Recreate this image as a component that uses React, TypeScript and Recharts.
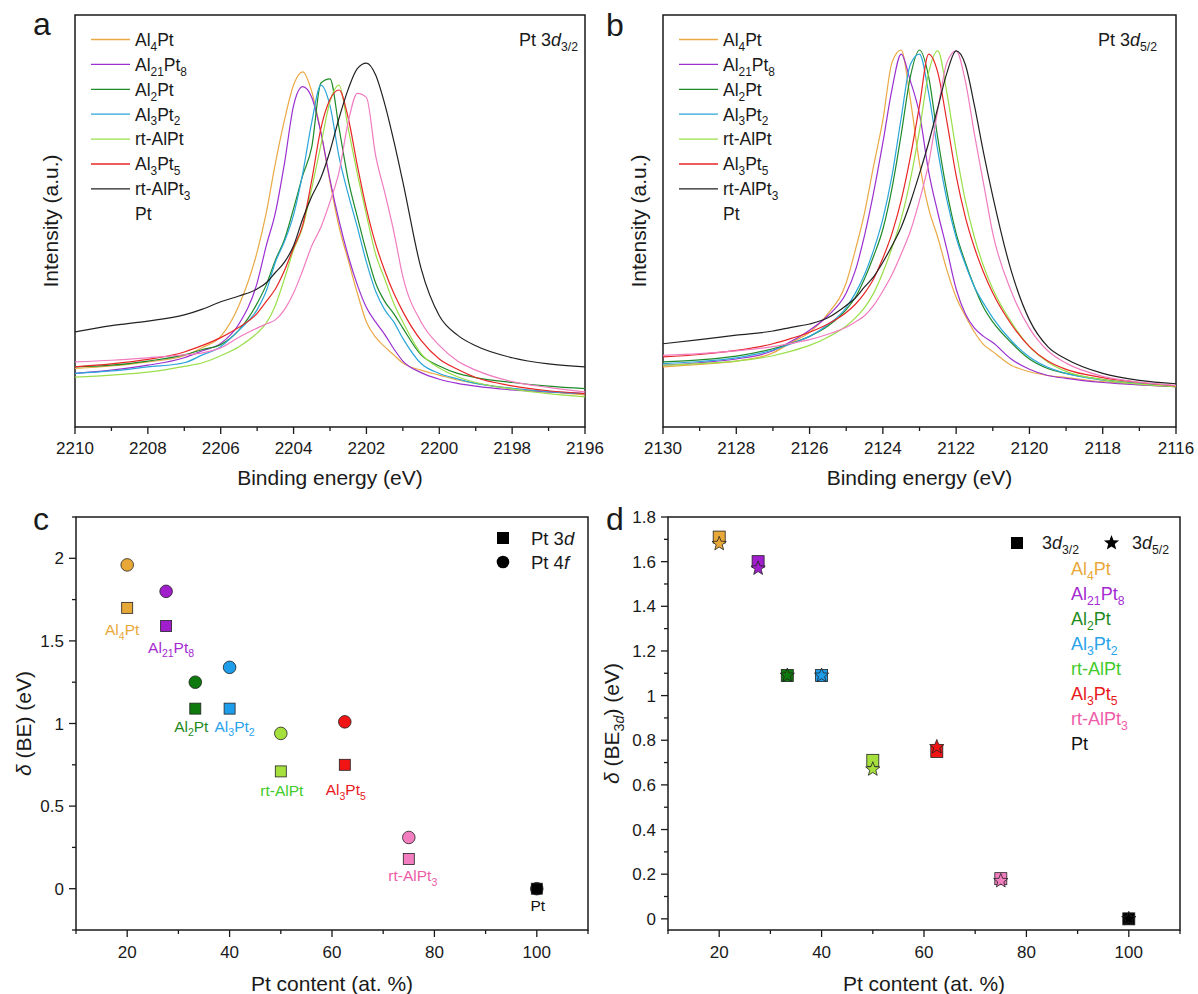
import React from "react";
import { LineChart, Line, XAxis, YAxis, ReferenceArea, ScatterChart, Scatter } from "recharts";

const FONT = '"Liberation Sans", Arial, Helvetica, sans-serif';
const INK = "#1a1a1a";

// compounds, in legend order
const NAMES = ["Al_4Pt", "Al_{21}Pt_8", "Al_2Pt", "Al_3Pt_2", "rt-AlPt", "Al_3Pt_5", "rt-AlPt_3", "Pt"];
const KEYS = ["al4pt", "al21pt8", "al2pt", "al3pt2", "rtAlPt", "al3pt5", "rtAlPt3", "pt"];
const LINE_COLORS = ["#e9a945", "#9b30d0", "#1e8a2a", "#2ba6da", "#9adf4a", "#e82626", "#f07cc0", "#222222"];
// legend swatches as printed (rt-AlPt3 row shows black, Pt row has none)
const LEGEND_SWATCH = ["#e9a945", "#9b30d0", "#1e8a2a", "#2ba6da", "#9adf4a", "#e82626", "#222222", ""];
const MARKER_COLORS = ["#e8a838", "#a01ecc", "#0e7a0e", "#1e9deb", "#a6e03c", "#f01414", "#f27ec0", "#000000"];
const TEXT_COLORS = ["#e9a93a", "#a52bd0", "#1f8b1f", "#29a3ea", "#3fcb2a", "#e8191d", "#ee5ca8", "#111111"];

// ---- panel a: Pt 3d3/2 spectra (intensity, a.u.)
const energyA = [2210, 2209, 2208, 2207, 2206.5, 2206, 2205.5, 2205, 2204.75, 2204.5, 2204.25, 2204, 2203.75, 2203.5, 2203.25, 2203, 2202.75, 2202.5, 2202.25, 2202, 2201.75, 2201.5, 2201.25, 2201, 2200.5, 2200, 2199.5, 2199, 2198, 2197, 2196];
const al4ptA = [14.2, 14.8, 15.8, 17.3, 19.3, 22, 29.5, 42.5, 52, 64, 74.5, 83, 86.2, 81.4, 71.5, 59.5, 48.5, 40.5, 32.5, 25.5, 21.8, 19.5, 17.5, 15.5, 13.8, 12.6, 11.4, 10.6, 9.4, 8.5, 7.8];
const al21pt8A = [13, 13.8, 15, 16.8, 18.5, 20.3, 25, 35, 44, 52, 64, 78, 82.6, 80, 71.5, 60, 50, 41.5, 34.5, 29, 25.5, 22.5, 19, 16, 13.2, 11.6, 10.6, 9.9, 9.0, 8.5, 8.1];
const al2ptA = [14.6, 15, 16, 17.5, 18.8, 20, 23.5, 30, 34.5, 40.5, 45.5, 53, 61, 68, 83.5, 84.5, 72.5, 60, 51, 42.5, 35, 30.5, 27.5, 24, 17.5, 14.8, 13, 12, 10.8, 9.9, 9.3];
const al3pt2A = [13, 13.6, 14.6, 15.6, 17.5, 19.5, 23.5, 28.5, 33, 40, 45, 51.5, 61.5, 74, 83, 78, 65.5, 56.5, 48.5, 40, 33, 28.5, 25.5, 21.5, 15.4, 13, 11.7, 10.6, 9.4, 8.6, 8.1];
const rtAlPtA = [12.1, 12.6, 13.3, 14.7, 15.6, 17.3, 19.5, 22.8, 25.2, 29.5, 36, 43, 48.5, 58, 68.5, 79, 83, 72.5, 61.5, 51.5, 42, 36, 30, 25.5, 17.8, 14.3, 12.2, 10.8, 9.2, 8.1, 7.3];
const al3pt5A = [14.6, 15.3, 16.4, 18.2, 19.8, 21.7, 24.2, 27.6, 30.5, 33.5, 38, 43.5, 49, 60, 72.5, 79.5, 81.8, 75, 63.5, 53, 44.5, 38, 32.5, 28, 21, 16.5, 14, 12, 10, 8.8, 8.1];
const rtAlPt3A = [15.8, 16.2, 16.8, 17.5, 18, 19.2, 21.8, 24, 25, 26, 28.5, 32.5, 38, 44, 48.5, 54.7, 62, 74, 81, 80, 66, 57, 47.5, 36.5, 25.5, 19.8, 16, 13.8, 11, 9.6, 8.5];
const ptA = [23.1, 24.6, 25.7, 27.2, 28.6, 30.4, 31.8, 33.5, 35, 37.5, 40, 44, 50.5, 56, 60.5, 67, 75, 82, 87, 88.3, 85.5, 78.5, 69.5, 59.5, 38.5, 27, 22.3, 19.7, 16.8, 15.3, 14.6];

// ---- panel b: Pt 3d5/2 spectra (intensity, a.u.)
const energyB = [2130, 2129, 2128, 2127, 2126.5, 2126, 2125.5, 2125, 2124.75, 2124.5, 2124.25, 2124, 2123.75, 2123.5, 2123.25, 2123, 2122.75, 2122.5, 2122.25, 2122, 2121.75, 2121.5, 2121.25, 2121, 2120.5, 2120, 2119.5, 2119, 2118, 2117, 2116];
const al4ptB = [14.6, 15.2, 16, 18, 20.5, 23, 27.5, 35, 43, 52, 63.5, 74.5, 88.5, 91.5, 79.5, 64, 53, 46, 38, 31.5, 27, 23, 20, 18.3, 15, 13.4, 12.5, 12, 11, 10.3, 9.8];
const al21pt8B = [15, 15.6, 16.5, 18.5, 20.8, 23.5, 27, 32.5, 38, 46.5, 57, 69, 82, 90.5, 84, 76, 62, 52, 43, 33.5, 27.5, 24, 22, 20.5, 16.5, 14, 12.5, 11.8, 10.8, 10.2, 9.8];
const al2ptB = [15.8, 16.3, 17.2, 19, 20.3, 22, 24.5, 28.5, 31.5, 36, 41.5, 48, 58, 71, 85, 91.5, 85, 70, 57, 47, 40, 34, 29, 25.5, 20.5, 16.5, 14.2, 13, 11.5, 10.5, 9.8];
const al3pt2B = [15.4, 15.9, 16.8, 18.7, 20.2, 22, 24.8, 29, 32.5, 37, 43, 50.5, 61, 75, 88, 90.5, 81, 67, 55, 46, 39.5, 34, 30, 26.5, 21, 17, 14.5, 13, 11.4, 10.5, 9.9];
const rtAlPtB = [15, 15.4, 16, 17.3, 18.4, 19.8, 21.8, 24.5, 26.5, 29, 32.5, 37.5, 43.5, 50.5, 60, 72, 86, 91.3, 81, 67, 55, 46, 39, 33.5, 25.5, 19.5, 15.8, 13.5, 11.5, 10.4, 9.8];
const al3pt5B = [17, 17.6, 18.6, 20.2, 21.5, 23, 25, 27.8, 29.8, 32.5, 36, 41, 47, 55, 65.5, 78, 90.5, 86, 74, 61, 51, 43.5, 37.5, 32.5, 25, 19.5, 16, 14, 12, 10.8, 10];
const rtAlPt3B = [17.4, 17.8, 18.5, 19.5, 20.3, 21.2, 22.5, 24.2, 25.5, 27, 29.5, 33, 37, 42, 47.5, 55, 64, 77, 88.5, 91.3, 84, 71, 59, 47, 33, 24, 18.5, 15.5, 12.3, 10.9, 10.1];
const ptB = [20.2, 21.2, 22.3, 23.3, 24.2, 25, 26.5, 29.5, 31.3, 34, 36.5, 40, 44, 48.5, 54.5, 61.5, 69, 77.5, 86, 91.3, 88, 78, 66.5, 56, 38, 26, 19.5, 16.5, 13, 11.3, 10.5];

// ---- panels c, d: chemical shifts vs Pt content
const ptContent = [20, 27.6, 33.3, 40, 50, 62.5, 75, 100];
const shift3d = [1.70, 1.59, 1.09, 1.09, 0.71, 0.75, 0.18, 0];
const shift4f = [1.96, 1.80, 1.25, 1.34, 0.94, 1.01, 0.31, 0];
const shift3d32 = [1.71, 1.60, 1.09, 1.09, 0.71, 0.75, 0.18, 0];
const shift3d52 = [1.68, 1.57, 1.09, 1.09, 0.67, 0.77, 0.17, 0];

// tick values
const ticksA = [2210, 2209, 2208, 2207, 2206, 2205, 2204, 2203, 2202, 2201, 2200, 2199, 2198, 2197, 2196];
const ticksB = [2130, 2129, 2128, 2127, 2126, 2125, 2124, 2123, 2122, 2121, 2120, 2119, 2118, 2117, 2116];
const ticksPt = [10, 20, 30, 40, 50, 60, 70, 80, 90, 100, 110];
const ticksC = [-0.25, 0, 0.25, 0.5, 0.75, 1, 1.25, 1.5, 1.75, 2, 2.25];
const ticksD = [0, 0.1, 0.2, 0.3, 0.4, 0.5, 0.6, 0.7, 0.8, 0.9, 1, 1.1, 1.2, 1.3, 1.4, 1.5, 1.6, 1.7, 1.8];

// label nudges (px) for the compound names under the squares in c
const LABEL_NUDGE_C = [[-5, 22], [5, 21], [-4, 18], [5, 18], [1, 19], [1, 25], [4, 17], [1, 17]];

const seriesA = [al4ptA, al21pt8A, al2ptA, al3pt2A, rtAlPtA, al3pt5A, rtAlPt3A, ptA];
const seriesB = [al4ptB, al21pt8B, al2ptB, al3pt2B, rtAlPtB, al3pt5B, rtAlPt3B, ptB];

function toRows(energy: number[], series: number[][]) {
  return energy.map((e, i) => {
    const r: Record<string, number> = { e };
    KEYS.forEach((k, j) => (r[k] = series[j][i]));
    return r;
  });
}
const rowsA = toRows(energyA, seriesA);
const rowsB = toRows(energyB, seriesB);

const pts = (ys: number[]) => ptContent.map((x, i) => ({ x, y: ys[i], i }));

// tiny markup: _x or _{..} subscript, *..* italic
type Seg = { t: string; sub: boolean; it: boolean };
function parseRich(s: string): Seg[] {
  const out: Seg[] = [];
  let sub = false, it = false, braced = false, single = false, buf = "";
  const flush = () => { if (buf) { out.push({ t: buf, sub, it }); buf = ""; } };
  for (let i = 0; i < s.length; i++) {
    const c = s[i];
    if (c === "*") { flush(); it = !it; continue; }
    if (c === "_") {
      flush(); sub = true;
      if (s[i + 1] === "{") { braced = true; i++; } else single = true;
      continue;
    }
    if (c === "}" && braced) { flush(); sub = false; braced = false; continue; }
    buf += c;
    if (single) { flush(); sub = false; single = false; }
  }
  flush();
  return out;
}
function rich(s: string, size: number) {
  let down = false;
  return parseRich(s).map((p, i) => {
    let dy: number | undefined;
    if (p.sub && !down) { dy = size * 0.28; down = true; }
    else if (!p.sub && down) { dy = -size * 0.28; down = false; }
    return (
      <tspan key={i} dy={dy} fontSize={p.sub ? size * 0.68 : size} fontStyle={p.it ? "italic" : "normal"}>{p.t}</tspan>
    );
  });
}

const isMajor = (v: number, step: number) => Math.abs(v / step - Math.round(v / step)) < 1e-6;

const bottomTick = (step: number, gap: number) => (props: any) => {
  const { x, y, payload } = props;
  const major = isMajor(payload.value, step);
  return (
    <g>
      <line x1={x} x2={x} y1={y} y2={y + (major ? 7 : 4)} stroke={INK} strokeWidth={1.3} />
      {major && (
        <text x={x} y={y + gap} textAnchor="middle" fontSize={17} fill={INK}>{String(payload.value)}</text>
      )}
    </g>
  );
};

const leftTick = (step: number) => (props: any) => {
  const { x, y, payload } = props;
  const major = isMajor(payload.value, step);
  return (
    <g>
      <line x1={x} x2={x - (major ? 7 : 4)} y1={y} y2={y} stroke={INK} strokeWidth={1.3} />
      {major && (
        <text x={x - 12} y={y + 6} textAnchor="end" fontSize={17} fill={INK}>{String(payload.value)}</text>
      )}
    </g>
  );
};

const xTitle = (text: string, dy: number) => (props: any) => {
  const vb = props.viewBox || { x: 0, y: 0, width: 0, height: 0 };
  return (
    <text x={vb.x + vb.width / 2} y={vb.y + dy} textAnchor="middle" fontSize={21} fill={INK}>{rich(text, 21)}</text>
  );
};

const yTitle = (text: string, off: number) => (props: any) => {
  const vb = props.viewBox || { x: 0, y: 0, width: 0, height: 0 };
  const cx = vb.x + off;
  const cy = vb.y + vb.height / 2;
  return (
    <text x={cx} y={cy + 7.5} transform={`rotate(-90 ${cx} ${cy})`} textAnchor="middle" fontSize={21} fill={INK}>
      {rich(text, 21)}
    </text>
  );
};

function starPoints(cx: number, cy: number, R: number, r: number) {
  const p: string[] = [];
  for (let k = 0; k < 10; k++) {
    const a = -Math.PI / 2 + (k * Math.PI) / 5;
    const rad = k % 2 === 0 ? R : r;
    p.push(`${cx + rad * Math.cos(a)},${cy + rad * Math.sin(a)}`);
  }
  return p.join(" ");
}

const squareLabelled = (props: any) => {
  const { cx, cy, payload } = props;
  const i = payload.i;
  const [dx, dy] = LABEL_NUDGE_C[i];
  return (
    <g>
      <rect x={cx - 5.5} y={cy - 5.5} width={11} height={11} fill={MARKER_COLORS[i]} stroke="#222" strokeWidth={0.8} />
      <text x={cx + dx} y={cy + dy + 5.5} textAnchor="middle" fontSize={15.5} fill={TEXT_COLORS[i]}>
        {rich(NAMES[i], 15.5)}
      </text>
    </g>
  );
};
const circleShape = (props: any) => {
  const { cx, cy, payload } = props;
  return <circle cx={cx} cy={cy} r={6.3} fill={MARKER_COLORS[payload.i]} stroke="#222" strokeWidth={0.8} />;
};
const squareShape = (props: any) => {
  const { cx, cy, payload } = props;
  return <rect x={cx - 6} y={cy - 6} width={12} height={12} fill={MARKER_COLORS[payload.i]} stroke="#222" strokeWidth={0.8} />;
};
const starShape = (props: any) => {
  const { cx, cy, payload } = props;
  return <polygon points={starPoints(cx, cy, 7.5, 3.2)} fill={MARKER_COLORS[payload.i]} stroke="#222" strokeWidth={0.8} />;
};

function Spectrum({ rows, domain, ticks, yOff, ...m }: any) {
  return (
    <LineChart width={m.width} height={500} data={rows} margin={{ top: 15, right: m.right, left: 0, bottom: 0 }}>
      <XAxis dataKey="e" type="number" domain={domain} reversed ticks={ticks} interval={0} tickLine={false}
        tickSize={0} tickMargin={0} axisLine={false} height={73} tick={bottomTick(2, 27)}
        label={xTitle("Binding energy (eV)", 57.5)} />
      <YAxis type="number" domain={[0, 100]} width={m.yw} tick={false} tickLine={false} axisLine={false}
        label={yTitle("Intensity (a.u.)", yOff)} />
      <ReferenceArea x1={domain[1]} x2={domain[0]} y1={0} y2={100} fill="none" stroke={INK} strokeWidth={1.5} />
      {KEYS.map((k, j) => (
        <Line key={k} dataKey={k} type="monotone" stroke={LINE_COLORS[j]} strokeWidth={1.2} dot={false}
          activeDot={false} isAnimationActive={false} />
      ))}
    </LineChart>
  );
}

function ShiftChart({ width, yw, right, yDomain, yTicks, yStep, ytitle, yOff, children }: any) {
  return (
    <ScatterChart width={width} height={500} margin={{ top: 23, right, left: 0, bottom: 0 }}>
      <XAxis dataKey="x" type="number" domain={[10, 110]} ticks={ticksPt} interval={0} tickLine={false}
        tickSize={0} tickMargin={0} axisLine={false} height={64} tick={bottomTick(20, 28)}
        label={xTitle("Pt content (at. %)", 60.5)} />
      <YAxis dataKey="y" type="number" domain={yDomain} ticks={yTicks} interval={0} tickLine={false}
        tickSize={0} tickMargin={0} axisLine={false} width={yw} tick={leftTick(yStep)}
        label={yTitle(ytitle, yOff)} />
      <ReferenceArea x1={10} x2={110} y1={yDomain[0]} y2={yDomain[1]} fill="none" stroke={INK} strokeWidth={1.5} />
      {children}
    </ScatterChart>
  );
}

function Overlay() {
  const rowY = (k: number, y0: number) => y0 + k * 24.9;
  return (
    <svg width={1198} height={994} style={{ position: "absolute", left: 0, top: 0, pointerEvents: "none" }}>
      <g fontSize={32} fill={INK}>
        <text x={33} y={35}>a</text>
        <text x={606} y={36}>b</text>
        <text x={33} y={530}>c</text>
        <text x={606} y={530}>d</text>
      </g>
      {[{ lx: 91, tx: 135 }, { lx: 679, tx: 723 }].map((p, j) => (
        <g key={j}>
          {NAMES.map((n, k) => (
            <g key={k}>
              {LEGEND_SWATCH[k] && (
                <line x1={p.lx} x2={p.lx + 39} y1={rowY(k, 39.5)} y2={rowY(k, 39.5)} stroke={LEGEND_SWATCH[k]} strokeWidth={1.3} />
              )}
              <text x={p.tx} y={rowY(k, 39.5) + 6.3} fontSize={17.5} fill={INK}>{rich(n, 17.5)}</text>
            </g>
          ))}
        </g>
      ))}
      <text x={578} y={45.5} textAnchor="end" fontSize={18} fill={INK}>{rich("Pt 3*d*_{3/2}", 18)}</text>
      <text x={1157} y={45.5} textAnchor="end" fontSize={18} fill={INK}>{rich("Pt 3*d*_{5/2}", 18)}</text>

      {/* panel c legend */}
      <rect x={497} y={532} width={12} height={12} fill="#000" />
      <text x={531} y={544.5} fontSize={18.5} fill={INK}>{rich("Pt 3*d*", 18.5)}</text>
      <circle cx={503} cy={562} r={6.3} fill="#000" />
      <text x={531} y={568.5} fontSize={18.5} fill={INK}>{rich("Pt 4*f*", 18.5)}</text>

      {/* panel d legend */}
      <rect x={1011} y={537} width={12} height={12} fill="#000" />
      <text x={1042} y={549} fontSize={18} fill={INK}>{rich("3*d*_{3/2}", 18)}</text>
      <polygon points={starPoints(1111.5, 543, 8, 3.4)} fill="#000" />
      <text x={1132} y={549} fontSize={18} fill={INK}>{rich("3*d*_{5/2}", 18)}</text>
      {NAMES.map((n, k) => (
        <text key={k} x={1071} y={rowY(k, 569) + 6.3} fontSize={18} fill={TEXT_COLORS[k]}>{rich(n, 18)}</text>
      ))}
    </svg>
  );
}

export default function App() {
  return (
    <div style={{ position: "absolute", left: 0, top: 0, width: 1198, height: 994, background: "#fff", fontFamily: FONT, color: INK, overflow: "hidden" }}>
      <div style={{ position: "absolute", left: 0, top: 0 }}>
        <Spectrum rows={rowsA} domain={[2196, 2210]} ticks={ticksA} width={630} right={45} yw={75} yOff={50} />
      </div>
      <div style={{ position: "absolute", left: 600, top: 0 }}>
        <Spectrum rows={rowsB} domain={[2116, 2130]} ticks={ticksB} width={598} right={22} yw={63} yOff={38} />
      </div>
      <div style={{ position: "absolute", left: 0, top: 494 }}>
        <ShiftChart width={600} yw={76} right={12} yDomain={[-0.25, 2.25]} yTicks={ticksC} yStep={0.5}
          ytitle="*δ* (BE) (eV)" yOff={23}>
          <Scatter data={pts(shift4f)} shape={circleShape} isAnimationActive={false} />
          <Scatter data={pts(shift3d)} shape={squareLabelled} isAnimationActive={false} />
        </ShiftChart>
      </div>
      <div style={{ position: "absolute", left: 600, top: 494 }}>
        <ShiftChart width={598} yw={68} right={18} yDomain={[-0.05, 1.8]} yTicks={ticksD} yStep={0.2}
          ytitle="*δ* (BE_{3*d*}) (eV)" yOff={11}>
          <Scatter data={pts(shift3d32)} shape={squareShape} isAnimationActive={false} />
          <Scatter data={pts(shift3d52)} shape={starShape} isAnimationActive={false} />
        </ShiftChart>
      </div>
      <Overlay />
    </div>
  );
}
